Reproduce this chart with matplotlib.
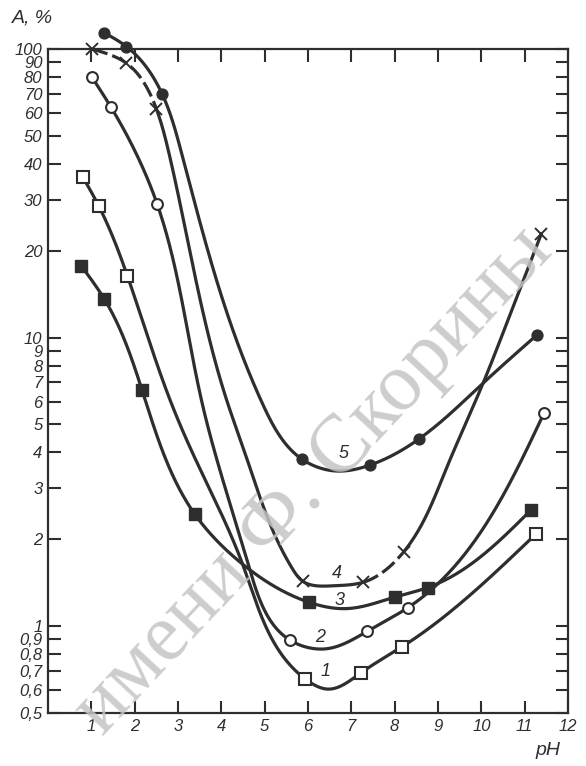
import numpy as np
import matplotlib.pyplot as plt

# measured points (markers) of the five curves, pH vs A %
x1 = [0.80, 1.17, 1.83, 5.93, 7.23, 8.17, 11.25]
y1 = [36.1, 28.6, 16.4, 0.657, 0.69, 0.848, 2.08]
x2 = [1.02, 1.45, 2.52, 5.58, 7.37, 8.31, 11.45]
y2 = [79.7, 63.0, 29.0, 0.895, 0.96, 1.16, 5.49]
x3 = [0.77, 1.30, 2.17, 3.39, 6.02, 8.00, 8.76, 11.15]
y3 = [17.7, 13.6, 6.58, 2.44, 1.21, 1.26, 1.36, 2.53]
x4 = [1.02, 1.81, 2.50, 5.88, 7.28, 8.21, 11.38]
y4 = [100.0, 89.3, 62.1, 1.43, 1.42, 1.81, 22.8]
x5 = [1.30, 1.81, 2.63, 5.86, 7.42, 8.55, 11.28]
y5 = [113.8, 102.0, 70.1, 3.79, 3.61, 4.44, 10.2]

# points (markers plus points between them)
lx1 = [0.80, 1.17, 1.83, 2.85, 3.33, 4.49, 5.93, 6.45, 7.23, 8.17, 11.25]
ly1 = [36.1, 28.6, 16.4, 5.9, 4.0, 1.64, 0.657, 0.605, 0.69, 0.848, 2.08]
lx2 = [1.02, 1.45, 2.52, 3.56, 3.85, 4.62, 5.58, 6.40, 7.37, 8.31, 11.45]
ly2 = [79.7, 63.0, 29.0, 5.9, 4.0, 1.64, 0.895, 0.834, 0.96, 1.16, 5.49]
lx3 = [0.77, 1.30, 2.17, 3.39, 4.49, 6.02, 6.89, 8.00, 8.76, 11.15]
ly3 = [17.7, 13.6, 6.58, 2.44, 1.64, 1.21, 1.15, 1.26, 1.36, 2.53]
lx4 = [1.02, 1.81, 2.50, 2.78, 4.15, 4.54, 5.63, 5.88, 6.60, 7.28, 8.21,
       9.19, 10.04, 10.67, 11.38]
ly4 = [100.0, 89.3, 62.1, 44.3, 5.9, 4.0, 1.59, 1.43, 1.38, 1.42, 1.81,
       3.51, 6.95, 12.1, 22.8]
lx5 = [1.30, 1.81, 2.63, 3.07, 4.95, 5.86, 6.62, 7.42, 8.55, 10.04, 11.28]
ly5 = [113.8, 102.0, 70.1, 44.3, 5.9, 3.79, 3.45, 3.61, 4.44, 6.95, 10.2]

curve_labels = ["1", "2", "3", "4", "5"]
label_x = [6.40, 6.28, 6.72, 6.66, 6.83]
label_y = [0.695, 0.916, 1.23, 1.52, 3.95]

ytick_vals = [0.5, 0.6, 0.7, 0.8, 0.9, 1, 2, 3, 4, 5, 6, 7, 8, 9, 10,
              20, 30, 40, 50, 60, 70, 80, 90, 100]
ytick_text = ["0,5", "0,6", "0,7", "0,8", "0,9", "1", "2", "3", "4", "5", "6",
              "7", "8", "9", "10", "20", "30", "40", "50", "60", "70", "80",
              "90", "100"]
xtick_vals = list(range(1, 13))


def natural(t, v, tt):
    n = len(t)
    h = np.diff(t)
    A = np.zeros((n, n))
    b = np.zeros(n)
    A[0, 0] = A[-1, -1] = 1
    for i in range(1, n - 1):
        A[i, i - 1] = h[i - 1]
        A[i, i] = 2 * (h[i - 1] + h[i])
        A[i, i + 1] = h[i]
        b[i] = 6 * ((v[i + 1] - v[i]) / h[i] - (v[i] - v[i - 1]) / h[i - 1])
    M = np.linalg.solve(A, b)
    k = np.clip(np.searchsorted(t, tt) - 1, 0, n - 2)
    a = t[k + 1] - tt
    c = tt - t[k]
    hk = h[k]
    return (M[k] * a**3 / (6 * hk) + M[k + 1] * c**3 / (6 * hk)
            + (v[k] / hk - M[k] * hk / 6) * a + (v[k + 1] / hk - M[k + 1] * hk / 6) * c)


def smooth(xs, ys, num=600):
    # parametric spline (chord length) drawn in roughly screen proportions
    X = np.asarray(xs, float) * 1.0
    Y = np.log10(ys) * 6.66
    t = np.concatenate([[0], np.cumsum(np.hypot(np.diff(X), np.diff(Y)))])
    tt = np.linspace(0, t[-1], num)
    return natural(t, X, tt), 10 ** (natural(t, Y, tt) / 6.66)


ink = "#2e2e2e"
font = ["Liberation Sans", "DejaVu Sans"]

fig = plt.figure(figsize=(5.86, 7.66), dpi=100)
ax = fig.add_axes([0.0819, 0.0692, 0.8874, 0.8668])
ax.set_yscale("log")
ax.set_xlim(0, 12)
ax.set_ylim(0.5, 100)

lw = 2.3
for xs, ys in [(lx1, ly1), (lx2, ly2), (lx3, ly3), (lx5, ly5)]:
    sx, sy = smooth(xs, ys)
    ax.plot(sx, sy, color=ink, lw=lw, clip_on=False, zorder=3)

# curve 4 is partly dashed
sx, sy = smooth(lx4, ly4)
dashed = (sx <= 2.5) | ((sx >= 7.28) & (sx <= 8.21))
for mask, ls in [(dashed, (0, (5, 1.6))), (~dashed, "-")]:
    ax.plot(sx, np.where(mask, sy, np.nan), color=ink, lw=lw, ls=ls,
            clip_on=False, zorder=3)

ms = 7.8
ax.plot(x1, y1, "s", ms=ms + 0.8, mfc="white", mec=ink, mew=1.5, ls="none", clip_on=False, zorder=4)
ax.plot(x2, y2, "o", ms=ms, mfc="white", mec=ink, mew=1.5, ls="none", clip_on=False, zorder=4)
ax.plot(x3, y3, "s", ms=ms + 0.8, mfc=ink, mec=ink, ls="none", clip_on=False, zorder=4)
ax.plot(x4, y4, "x", ms=ms + 1, mec=ink, mew=1.4, ls="none", clip_on=False, zorder=4)
ax.plot(x5, y5, "o", ms=ms, mfc=ink, mec=ink, ls="none", clip_on=False, zorder=4)

for t, tx, ty in zip(curve_labels, label_x, label_y):
    ax.text(tx, ty, t, family=font, style="italic", fontsize=13, color=ink,
            ha="center", va="center", zorder=5)

ax.set_yticks(ytick_vals)
ax.set_yticklabels(ytick_text)
ax.yaxis.set_minor_locator(plt.NullLocator())
ax.set_xticks(xtick_vals)
ax.set_xticklabels([str(v) for v in xtick_vals])
ax.tick_params(which="both", direction="in", length=9, width=1.5, color=ink,
               top=True, right=True, labelcolor=ink, pad=4)
for lab in ax.get_xticklabels() + ax.get_yticklabels():
    lab.set_family(font)
    lab.set_style("italic")
    lab.set_fontsize(12)
for s in ax.spines.values():
    s.set_color(ink)
    s.set_linewidth(1.6)

fig.text(0.02, 0.977, "A, %", family=font, style="italic", fontsize=14,
         color=ink, ha="left", va="center")
fig.text(0.935, 0.02, "pH", family=font, style="italic", fontsize=14,
         color=ink, ha="center", va="center")

# library watermark of the scan
fig.text(0.535, 0.372, "имени Ф. Скорины", family=["Liberation Serif", "DejaVu Serif"],
         fontsize=59, color="#c4c4c4", alpha=0.85, rotation=47,
         ha="center", va="center", zorder=0)

fig.savefig("out.png", dpi=100, facecolor="white")
